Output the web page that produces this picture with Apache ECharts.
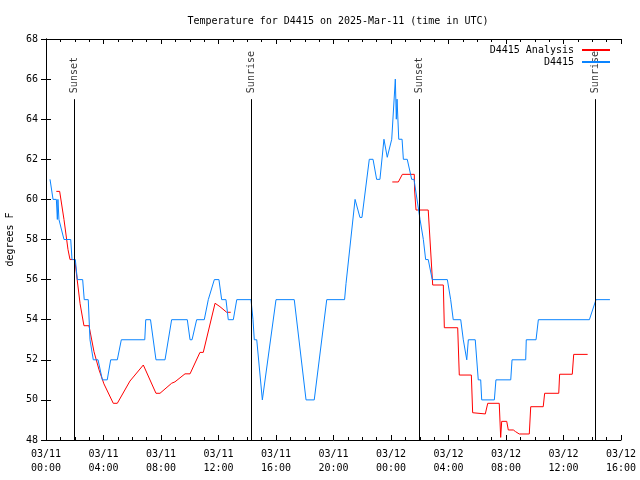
<!DOCTYPE html>
<html>
<head>
<meta charset="utf-8">
<script src="https://cdn.jsdelivr.net/npm/echarts@6.0.0/dist/echarts.min.js"></script>
<style>html,body{margin:0;padding:0;background:#fff;}#c{width:640px;height:480px;}</style>
</head>
<body>
<div id="c"></div>
<script>
// hours since 2025-03-11 00:00 UTC
const blueHours = [0.28,0.49,0.72,0.79,0.83,0.90,1.25,1.72,1.81,2.04,2.18,2.55,2.66,2.94,3.06,3.29,3.62,3.92,4.26,4.50,4.96,5.24,6.87,6.94,7.27,7.65,8.28,8.74,9.83,10.02,10.16,10.48,11.01,11.29,11.41,11.71,12.03,12.22,12.52,12.68,13.03,13.27,14.26,14.40,14.49,14.66,15.05,16.00,17.27,18.09,18.66,19.53,20.77,20.87,21.50,21.84,21.98,22.49,22.75,23.00,23.23,23.51,23.74,24.05,24.30,24.37,24.42,24.54,24.77,24.86,25.13,25.44,25.60,26.02,26.14,26.25,26.41,26.59,26.87,27.92,28.15,28.33,28.85,29.03,29.27,29.38,29.86,30.07,30.24,30.31,31.19,31.30,32.33,32.42,33.37,33.41,34.09,34.25,37.80,38.26,39.23];
const blueTemps = [61,60,60,59,60,59,58,58,57,57,56,56,55,55,53,52,52,51,51,52,52,53,53,54,54,52,52,54,54,53,53,54,54,55,55,56,56,55,55,54,54,55,55,54,53,53,50,55,55,50,50,55,55,55.8,60,59.1,59.1,62,62,61,61,63,62.1,63,66,64,65,63,63,62,62,61,61,59,59,58,57,57,56,56,55,54,54,53,52,53,53,51,51,50,50,51,51,52,52,53,53,54,54,55,55];
const redHours = [0.72,0.95,1.25,1.53,1.67,2.00,2.37,2.64,2.99,3.34,3.69,4.03,4.68,4.96,5.84,5.96,6.77,6.89,7.65,7.93,8.74,8.97,9.67,10.02,10.71,10.94,11.76,12.10,12.57,12.85,18,24.09,24.51,24.79,25.62,25.64,25.74,26.59,26.90,27.64,27.71,28.64,28.75,29.59,29.68,30.56,30.73,31.53,31.63,31.70,32.05,32.16,32.51,32.66,32.79,32.92,33.62,33.72,34.59,34.69,35.67,35.73,36.61,36.71,37.68];
const redTemps = [60.4,60.4,59.0,57.5,57.0,57.0,54.8,53.7,53.7,52.4,51.5,50.8,49.83,49.83,50.94,50.94,51.74,51.74,50.33,50.33,50.83,50.9,51.3,51.3,52.37,52.37,54.82,54.65,54.37,54.37,null,60.87,60.87,61.25,61.25,60.47,59.47,59.47,55.73,55.73,53.6,53.6,51.24,51.24,49.36,49.3,49.83,49.83,48.13,48.93,48.93,48.5,48.5,48.42,48.47,48.3,48.3,49.66,49.66,50.33,50.33,51.28,51.28,52.27,52.27];
const eventHours = [1.97,14.31,25.97,38.2];
const eventLabels = ['Sunset','Sunrise','Sunset','Sunrise'];
const eventTop = 65;
const yMin = 48, yMax = 68;

const FONT = 'DejaVu Sans Mono';
const pair = (xs, ys) => xs.map((x, i) => [x, ys[i] === null ? '-' : ys[i]]);
const fmtX = v => {
  const day = 11 + Math.floor(v / 24);
  const hr = Math.round(v % 24);
  return '03/' + day + '\n' + String(hr).padStart(2, '0') + ':00';
};

const chart = echarts.init(document.getElementById('c'), null, {renderer: 'canvas'});
const axisCommon = {
  axisLine: {show: true, lineStyle: {color: '#000', width: 1}},
  splitLine: {show: false},
};
chart.setOption({
  animation: false,
  backgroundColor: '#fff',
  title: {
    text: 'Temperature for D4415 on 2025-Mar-11 (time in UTC)',
    left: 333, top: 11, textAlign: 'center',
    textStyle: {fontFamily: FONT, fontSize: 10, fontWeight: 'normal', color: '#000'}
  },
  legend: [
    {data: ['D4415 Analysis'], right: 30, top: 45, orient: 'vertical', align: 'right',
     itemWidth: 28, itemHeight: 2, icon: 'rect', itemGap: 0, padding: 0,
     textStyle: {fontFamily: FONT, fontSize: 10, color: '#000', padding: [0, 3, 0, 0]}},
    {data: ['D4415'], right: 30, top: 57, orient: 'vertical', align: 'right',
     itemWidth: 28, itemHeight: 2, icon: 'rect', itemGap: 0, padding: 0,
     textStyle: {fontFamily: FONT, fontSize: 10, color: '#000', padding: [0, 3, 0, 0]}}
  ],
  grid: {left: 46, right: 19, top: 39, bottom: 40, containLabel: false, outerBoundsMode: 'none'},
  xAxis: [
    Object.assign({}, axisCommon, {
      type: 'value', min: 0, max: 40, interval: 4, position: 'bottom',
      axisTick: {show: true, inside: true, length: 5, lineStyle: {color: '#000'}},
      minorTick: {show: true, splitNumber: 4, length: 3, lineStyle: {color: '#000'}},
      axisLabel: {formatter: fmtX, fontFamily: FONT, fontSize: 10, color: '#000', lineHeight: 14, margin: 7}
    }),
    Object.assign({}, axisCommon, {
      type: 'value', min: 0, max: 40, interval: 4, position: 'top',
      axisTick: {show: true, inside: true, length: 5, lineStyle: {color: '#000'}},
      minorTick: {show: true, splitNumber: 4, length: 3, lineStyle: {color: '#000'}},
      axisLabel: {show: false}
    })
  ],
  yAxis: [
    Object.assign({}, axisCommon, {
      type: 'value', min: yMin, max: yMax, interval: 2, position: 'left',
      name: 'degrees F', nameLocation: 'middle', nameRotate: 90, nameGap: 31,
      nameTextStyle: {fontFamily: FONT, fontSize: 10, color: '#000'},
      axisTick: {show: true, inside: true, length: 5, lineStyle: {color: '#000'}},
      axisLabel: {fontFamily: FONT, fontSize: 10, color: '#000', margin: 8}
    }),
    Object.assign({}, axisCommon, {
      type: 'value', min: yMin, max: yMax, interval: 2, position: 'right',
      axisTick: {show: true, inside: true, length: 5, lineStyle: {color: '#000'}},
      axisLabel: {show: false}
    })
  ],
  series: [
    {
      name: 'events', type: 'scatter', symbolSize: 0, silent: true,
      data: eventHours.map((h, i) => ({value: [h, eventTop], label: {formatter: eventLabels[i]}})),
      label: {show: true, position: 'top', rotate: 90, align: 'left', verticalAlign: 'middle', distance: 6,
              fontFamily: FONT, fontSize: 10, color: '#000'},
      markLine: {
        silent: true, symbol: 'none', animation: false,
        label: {show: false},
        lineStyle: {color: '#000', width: 1, type: 'solid'},
        data: eventHours.map(h => [{coord: [h, yMin]}, {coord: [h, eventTop]}])
      }
    },
    {
      name: 'D4415 Analysis', type: 'line', showSymbol: false, symbol: 'none', connectNulls: false,
      data: pair(redHours, redTemps),
      lineStyle: {color: '#ff0000', width: 1}, itemStyle: {color: '#ff0000'}, z: 3
    },
    {
      name: 'D4415', type: 'line', showSymbol: false, symbol: 'none',
      data: pair(blueHours, blueTemps),
      lineStyle: {color: '#0a84ff', width: 1}, itemStyle: {color: '#0a84ff'}, z: 4
    }
  ]
});
</script>
</body>
</html>
